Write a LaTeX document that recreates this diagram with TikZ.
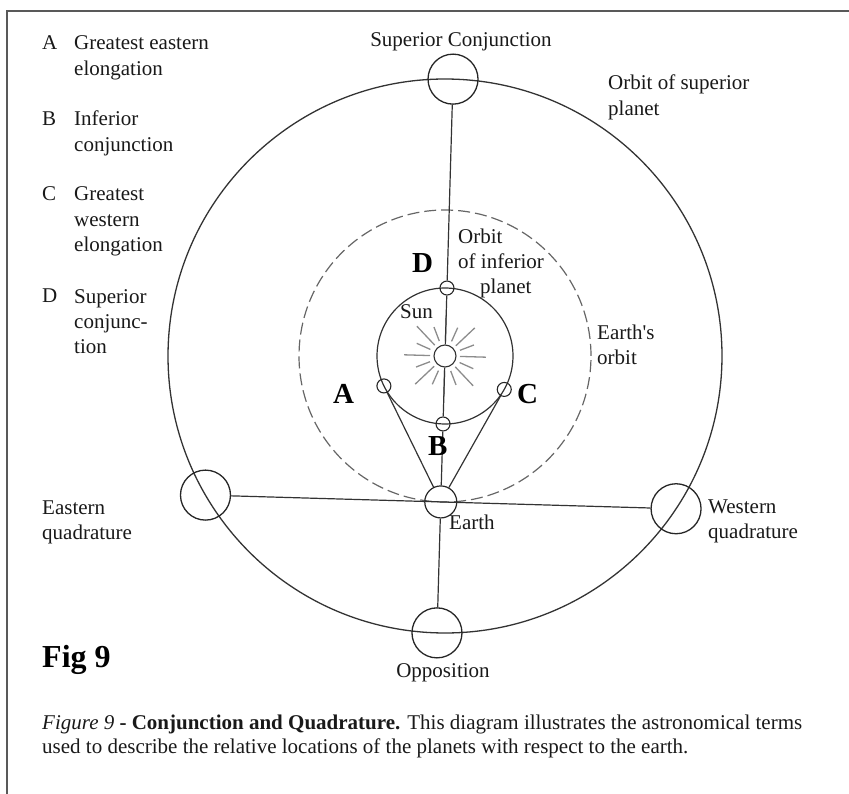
\documentclass[tikz,border=0pt]{standalone}
\usepackage{fontspec}
\setmainfont{Liberation Serif}
\begin{document}
\begin{tikzpicture}[x=1pt,y=-1pt,
  lbl/.style={font=\fontsize{21}{25.3}\selectfont, inner sep=0, anchor=base west, align=left, text=black!90},
  captext/.style={font=\fontsize{21}{24}\selectfont, inner sep=0, anchor=base west, align=left, text=black!90},
  bigletter/.style={font=\fontsize{29}{32}\selectfont\bfseries, inner sep=0, anchor=base west},
  orbitline/.style={line width=1.3pt, draw=black!80},
  earthorbit/.style={line width=1.2pt, draw=black!60, dash pattern=on 12pt off 5pt},
  connector/.style={line width=1.2pt, draw=black!80},
  ray/.style={line width=1.3pt, draw=black!45},
  bigplanet/.style={circle, draw=black!85, line width=1.3pt, minimum size=50pt, inner sep=0},
  earthplanet/.style={circle, draw=black!85, line width=1.2pt, minimum size=32pt, inner sep=0},
  smallplanet/.style={circle, draw=black!85, line width=1.1pt, minimum size=14pt, inner sep=0},
  sunbody/.style={circle, draw=black!80, line width=1.1pt, minimum size=22pt, inner sep=0},
  frameline/.style={line width=2pt, draw=black!65}]
\useasboundingbox (0,0) rectangle (849,794);
\draw[frameline] (849,11) -- (7,11) -- (7,794);

\begin{scope}[shift={(445,356)}, rotate=-1.66]
  % orbits
  \draw[orbitline] (0,0) circle[radius=277];
  \draw[earthorbit] (0,0) circle[radius=146];
  \draw[orbitline, line width=1.2pt] (0,0) circle[radius=68];
  % sun rays
  \foreach \a in {0,45,...,315} \draw[ray] (\a:15) -- (\a:41);
  \foreach \a in {22.5,67.5,...,337.5} \draw[ray] (\a:16) -- (\a:31);
  % bodies
  \node[sunbody, fill=white] (sun) at (0,0) {};
  \node[smallplanet] (D) at (0,-68) {};
  \node[smallplanet] (B) at (0,68) {};
  \node[smallplanet] (A) at (-60.2,31.7) {};
  \node[smallplanet] (C) at (60.2,31.7) {};
  \node[earthplanet] (E) at (0,146) {};
  \node[bigplanet] (SC) at (0,-277) {};
  \node[bigplanet] (O) at (0,277) {};
  \node[bigplanet] (EQ) at (-235.4,146) {};
  \node[bigplanet] (WQ) at (235.4,146) {};
  % connectors
  \draw[connector] (SC) -- (D);
  \draw[connector] (D) -- (sun);
  \draw[connector] (sun) -- (B);
  \draw[connector] (B) -- (E);
  \draw[connector] (E) -- (O);
  \draw[connector] (A) -- (E);
  \draw[connector] (C) -- (E);
  \draw[connector] (EQ) -- (WQ);
\end{scope}

% legend (multi-line nodes are anchored at the baseline of their last line)
\node[lbl] (lA) at (42,50) {A};
\node[lbl] (tA) at (74,75.3) {Greatest eastern\\elongation};
\node[lbl] (lB) at (42,126) {B};
\node[lbl] (tB) at (74,151.3) {Inferior\\conjunction};
\node[lbl] (lC) at (42,201) {C};
\node[lbl] (tC) at (74,251.6) {Greatest\\western\\elongation};
\node[lbl] (lD) at (42,303) {D};
\node[lbl] (tD) at (74,353.6) {Superior\\conjunc-\\tion};

% diagram labels
\node[lbl, anchor=base] (tSC) at (461,47) {Superior Conjunction};
\node[lbl] (tSO) at (608,115.3) {Orbit of superior\\planet};
\node[lbl] (tEO) at (597,364.3) {Earth\textquotesingle s\\orbit};
\node[lbl] (tIO1) at (458,244) {Orbit};
\node[lbl] (tIO2) at (458,269) {of inferior};
\node[lbl] (tIO3) at (480,294) {planet};
\node[lbl] (tSun) at (400,319) {Sun};
\node[lbl] (tE) at (449,529) {Earth};
\node[lbl] (tWQ) at (708,538.3) {Western\\quadrature};
\node[lbl] (tEQ) at (42,539.3) {Eastern\\quadrature};
\node[lbl, anchor=base] (tO) at (443,677) {Opposition};
\node[bigletter] (bA) at (333,403) {A};
\node[bigletter] (bB) at (428,455) {B};
\node[bigletter] (bC) at (517,403) {C};
\node[bigletter] (bD) at (412,273) {D};
\node[bigletter, font=\fontsize{32}{35}\selectfont\bfseries] (fig) at (42,667) {Fig 9};

% caption
\node[captext] (caption) at (42,753) {\textit{Figure 9} \textbf{- Conjunction and Quadrature.} This diagram illustrates the astronomical terms\\used to describe the relative locations of the planets with respect to the earth.};
\end{tikzpicture}
\end{document}
